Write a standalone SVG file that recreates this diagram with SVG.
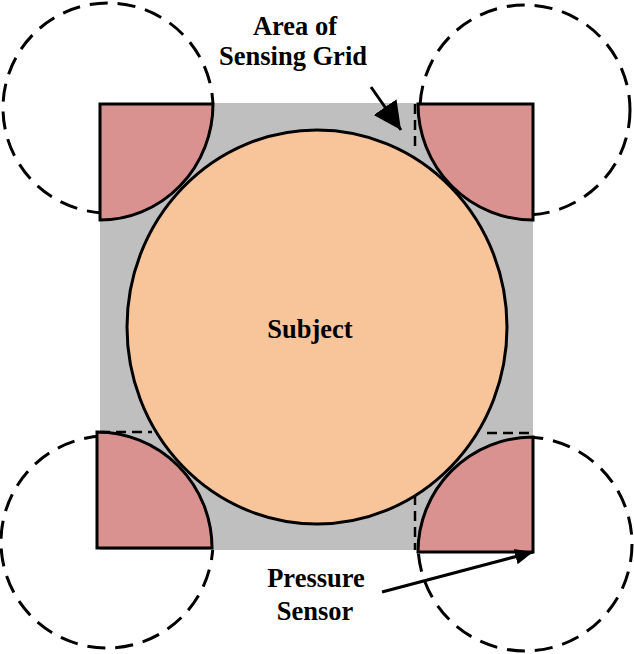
<svg xmlns="http://www.w3.org/2000/svg" width="634" height="654" viewBox="0 0 634 654">
<defs>
<style>
.grid{fill:#bfbfbf;stroke:none}
.sensor{fill:#d9928f;stroke:#000;stroke-width:3;stroke-linejoin:miter}
.subject{fill:#f8c49a;stroke:#000;stroke-width:3}
.range{fill:none;stroke:#000;stroke-width:3;stroke-dasharray:18 10}
.edge{fill:none;stroke:#000;stroke-width:2.5;stroke-dasharray:10 6}
.lbl{font-family:"Liberation Serif","Times New Roman",serif;font-weight:bold;font-size:26.5px;fill:#000;text-anchor:middle}
.arrow{stroke:#000;stroke-width:3;fill:none}
</style>
<marker id="headBig" markerUnits="userSpaceOnUse" markerWidth="30" markerHeight="30" refX="26" refY="13" orient="auto" viewBox="0 0 28 26">
<path d="M0,0 L26,13 L0,26 Z" fill="#000"/>
</marker>
<marker id="headSmall" markerUnits="userSpaceOnUse" markerWidth="20" markerHeight="18" refX="18" refY="8" orient="auto" viewBox="0 0 20 16">
<path d="M0,0 L18,8 L0,16 Z" fill="#000"/>
</marker>
</defs>
<g id="sensor-ranges">
<circle class="range" cx="108" cy="108" r="105"/>
<circle class="range" cx="525" cy="110" r="105"/>
<circle class="range" cx="107" cy="542" r="106"/>
<circle class="range" cx="525" cy="544" r="107"/>
</g>
<g id="sensing-grid">
<rect class="grid" x="100" y="103" width="433" height="447"/>
</g>
<g id="subject">
<ellipse class="subject" cx="317" cy="327" rx="190" ry="197"/>
<text class="lbl" x="310" y="338">Subject</text>
</g>
<g id="sensor-tl">
<path class="sensor" d="M100,104 H213 A113,116 0 0 1 100,220 Z"/>
</g>
<g id="sensor-tr">
<path class="sensor" d="M533,104 V220 A115,116 0 0 1 418,104 Z"/>
</g>
<g id="sensor-bl">
<path class="sensor" d="M97,548 V432 A115,116 0 0 1 212,548 Z"/>
</g>
<g id="sensor-br">
<path class="sensor" d="M533,552 H418 A115,115 0 0 1 533,437 Z"/>
</g>
<g id="grid-edges">
<line class="edge" x1="415" y1="104" x2="415" y2="148"/>
<line class="edge" x1="415" y1="495" x2="415" y2="550"/>
<line class="edge" x1="100" y1="432" x2="152" y2="432"/>
<line class="edge" x1="487" y1="433" x2="533" y2="433"/>
</g>
<g id="label-area">
<text class="lbl" x="295" y="35">Area of</text>
<text class="lbl" x="293" y="65">Sensing Grid</text>
</g>
<g id="label-sensor">
<text class="lbl" x="316" y="587">Pressure</text>
<text class="lbl" x="315" y="620">Sensor</text>
</g>
<g id="connectors">
<line class="arrow" x1="371" y1="87" x2="401" y2="130" marker-end="url(#headBig)"/>
<line class="arrow" x1="382" y1="592" x2="533" y2="552" marker-end="url(#headSmall)"/>
</g>
</svg>
